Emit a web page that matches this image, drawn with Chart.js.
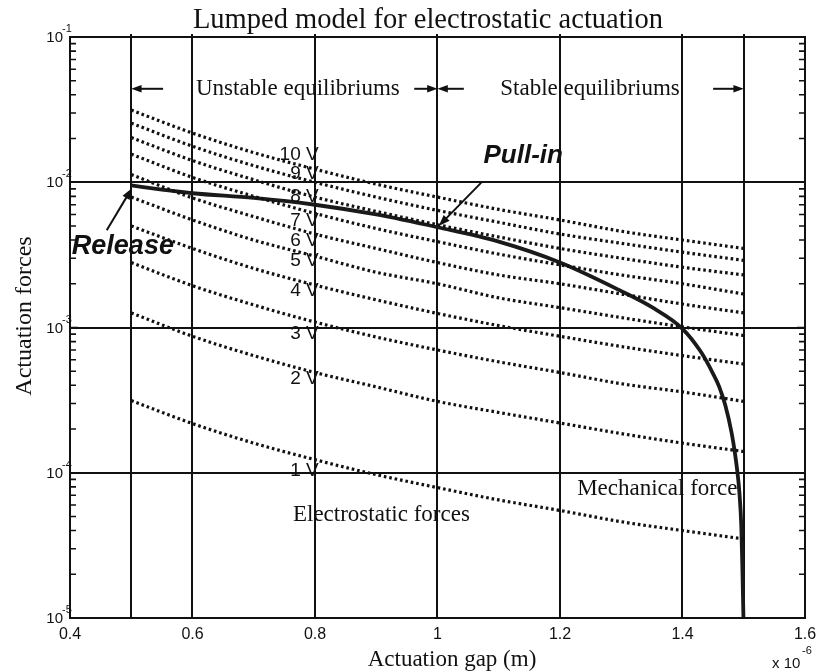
<!DOCTYPE html>
<html>
<head>
<meta charset="utf-8">
<script src="https://cdn.jsdelivr.net/npm/chart.js@4.4.0/dist/chart.umd.min.js"></script>
<style>
	body { margin: 0; background: #fff; }
	#wrap { position: relative; width: 825px; height: 671px; }
</style>
</head>
<body>
<div id="wrap"><canvas id="forceChart"></canvas></div>
<script>
// gap values (x 10^-6 m) where the dotted curves were read
const gapX = [0.5, 0.6, 0.7, 0.8, 0.9, 1.0, 1.1, 1.2, 1.3, 1.4, 1.5];

// electrostatic force for each voltage
const force10V = [0.0314, 0.0218, 0.0160, 0.0123, 0.0097, 0.0079, 0.0065, 0.0055, 0.0046, 0.0040, 0.0035];
const force9V = [0.0255, 0.0177, 0.0130, 0.0100, 0.0079, 0.0064, 0.0053, 0.0044, 0.0038, 0.0033, 0.0029];
const force8V = [0.0203, 0.0141, 0.0104, 0.0079, 0.0063, 0.0051, 0.0042, 0.0035, 0.0030, 0.0026, 0.0023];
const force7V = [0.0156, 0.0108, 0.0080, 0.0061, 0.0048, 0.0039, 0.0032, 0.0027, 0.0023, 0.0020, 0.0017];
const force6V = [0.0113, 0.0078, 0.0058, 0.0044, 0.0035, 0.0028, 0.0023, 0.0020, 0.0017, 0.00145, 0.00126];
const force5V = [0.0079, 0.0055, 0.0040, 0.0031, 0.0024, 0.0020, 0.0016, 0.00137, 0.00117, 0.00101, 0.00088];
const force4V = [0.0050, 0.0035, 0.00255, 0.00196, 0.00155, 0.00125, 0.00103, 0.00087, 0.00074, 0.00064, 0.00056];
const force3V = [0.0028, 0.00194, 0.00143, 0.00109, 0.00086, 0.00070, 0.00058, 0.00049, 0.00041, 0.00036, 0.00031];
const force2V = [0.00126, 0.00087, 0.00064, 0.00049, 0.00039, 0.00031, 0.00026, 0.00022, 0.000186, 0.00016, 0.00014];
const force1V = [0.000314, 0.000218, 0.00016, 0.000123, 0.000097, 0.000079, 0.000065, 0.000055, 0.000046, 0.00004, 0.000035];

const voltageLabels = ['10 V', '9 V', '8 V', '7 V', '6 V', '5 V', '4 V', '3 V', '2 V', '1 V'];
const voltageSeries = [force10V, force9V, force8V, force7V, force6V, force5V, force4V, force3V, force2V, force1V];

// mechanical (spring) force
const mechGap = [0.5, 0.55, 0.6, 0.7, 0.8, 0.9, 1.0, 1.1, 1.2, 1.3, 1.35, 1.4, 1.43, 1.45, 1.46, 1.47, 1.48, 1.485, 1.49, 1.493, 1.496, 1.498, 1.4995];
const mechForce = [0.0095, 0.0089, 0.0084, 0.0078, 0.0070, 0.0060, 0.0049, 0.0039, 0.0028, 0.00178, 0.00138, 0.00098, 0.00068, 0.00048, 0.00039, 0.00029, 0.00019, 0.000142, 0.000098, 0.000072, 0.000043, 0.00002, 0.00001];

// axis ticks
const xTickValues = [0.4, 0.6, 0.8, 1.0, 1.2, 1.4, 1.6];
const xTickLabels = ['0.4', '0.6', '0.8', '1', '1.2', '1.4', '1.6'];
const yTickExponents = [-1, -2, -3, -4, -5];

// lines drawn across the plot
const verticalLines = [0.5, 0.6, 0.8, 1.0, 1.2, 1.4, 1.5];
const horizontalLines = [1e-2, 1e-3, 1e-4];

const SERIF = '"Liberation Serif", "Times New Roman", serif';
const SANS = '"Liberation Sans", Arial, sans-serif';

// 전압별 점선 데이터셋
const datasets = voltageSeries.map((series, i) => ({
	label: voltageLabels[i],
	data: series.map((v, j) => ({ x: gapX[j], y: v })),
	borderColor: '#111',
	borderWidth: 3.2,
	borderDash: [2.6, 2.9],
	cubicInterpolationMode: 'monotone',
	pointRadius: 0,
	fill: false
}));

// 기계적 힘 곡선
datasets.push({
	label: 'Mechanical force',
	data: mechForce.map((v, j) => ({ x: mechGap[j], y: v })),
	borderColor: '#1a1a1a',
	borderWidth: 3.8,
	cubicInterpolationMode: 'monotone',
	pointRadius: 0,
	fill: false
});

function drawArrow(ctx, x1, y1, x2, y2, head) {
	const ang = Math.atan2(y2 - y1, x2 - x1);
	ctx.beginPath();
	ctx.moveTo(x1, y1);
	ctx.lineTo(x2 - Math.cos(ang) * head * 0.6, y2 - Math.sin(ang) * head * 0.6);
	ctx.stroke();
	ctx.beginPath();
	ctx.moveTo(x2, y2);
	ctx.lineTo(x2 - head * Math.cos(ang - 0.35), y2 - head * Math.sin(ang - 0.35));
	ctx.lineTo(x2 - head * Math.cos(ang + 0.35), y2 - head * Math.sin(ang + 0.35));
	ctx.closePath();
	ctx.fill();
}

const decorPlugin = {
	id: 'decor',
	beforeDatasetsDraw(chart) {
		const { ctx, chartArea: a, scales: { x, y } } = chart;
		ctx.save();
		ctx.strokeStyle = '#111';
		ctx.lineWidth = 2;
		verticalLines.forEach(v => {
			const px = Math.round(x.getPixelForValue(v));
			ctx.beginPath();
			ctx.moveTo(px, a.top - 3);
			ctx.lineTo(px, a.bottom);
			ctx.stroke();
		});
		horizontalLines.forEach(v => {
			const py = Math.round(y.getPixelForValue(v));
			ctx.beginPath();
			ctx.moveTo(a.left, py);
			ctx.lineTo(a.right, py);
			ctx.stroke();
		});
		ctx.restore();
	},
	afterDraw(chart) {
		const { ctx, chartArea: a, scales: { x, y } } = chart;
		ctx.save();
		ctx.strokeStyle = '#111';
		ctx.fillStyle = '#111';

		// frame
		ctx.lineWidth = 2;
		ctx.strokeRect(a.left, a.top, a.right - a.left, a.bottom - a.top);

		// minor ticks on the log axis (both sides)
		ctx.lineWidth = 1.6;
		for (let e = -5; e < -1 + 1e-9; e++) {
			for (let m = 1; m <= 9; m++) {
				const v = m * Math.pow(10, e);
				if (v > 0.1 + 1e-12) break;
				const py = y.getPixelForValue(v);
				const len = m === 1 ? 8 : 6;
				ctx.beginPath();
				ctx.moveTo(a.left, py);
				ctx.lineTo(a.left + len, py);
				ctx.moveTo(a.right, py);
				ctx.lineTo(a.right - len, py);
				ctx.stroke();
			}
		}

		// y tick labels 10^n
		yTickExponents.forEach(e => {
			const py = y.getPixelForValue(Math.pow(10, e));
			ctx.font = '15px ' + SANS;
			ctx.textAlign = 'right';
			ctx.textBaseline = 'middle';
			ctx.fillText('10', a.left - 7, py + 1);
			ctx.font = '11px ' + SANS;
			ctx.textAlign = 'left';
			ctx.fillText(String(e), a.left - 8, py - 8);
		});

		// x tick labels
		ctx.font = '16px ' + SANS;
		ctx.textAlign = 'center';
		ctx.textBaseline = 'top';
		xTickValues.forEach((v, i) => {
			ctx.fillText(xTickLabels[i], x.getPixelForValue(v), a.bottom + 9);
		});
		ctx.font = '15px ' + SANS;
		ctx.textAlign = 'left';
		ctx.textBaseline = 'alphabetic';
		ctx.fillText('x 10', 772, 668);
		ctx.font = '11px ' + SANS;
		ctx.fillText('-6', 802, 654);

		// title and axis titles
		ctx.font = '28.5px ' + SERIF;
		ctx.textAlign = 'center';
		ctx.textBaseline = 'middle';
		ctx.fillText('Lumped model for electrostatic actuation', 428, 21);
		ctx.font = '23px ' + SERIF;
		ctx.fillText('Actuation gap (m)', 452, 660);
		ctx.save();
		ctx.translate(25, 316);
		ctx.rotate(-Math.PI / 2);
		ctx.font = '24px ' + SERIF;
		ctx.fillText('Actuation forces', 0, 0);
		ctx.restore();

		// region labels and arrows
		const yArrow = y.getPixelForValue(0.044);
		ctx.font = '23px ' + SERIF;
		ctx.fillText('Unstable equilibriums', x.getPixelForValue(0.772), yArrow);
		ctx.fillText('Stable equilibriums', x.getPixelForValue(1.249), yArrow);
		ctx.lineWidth = 2;
		drawArrow(ctx, x.getPixelForValue(0.552), yArrow, x.getPixelForValue(0.5), yArrow, 11);
		drawArrow(ctx, x.getPixelForValue(0.962), yArrow, x.getPixelForValue(1.0), yArrow, 11);
		drawArrow(ctx, x.getPixelForValue(1.043), yArrow, x.getPixelForValue(1.0), yArrow, 11);
		drawArrow(ctx, x.getPixelForValue(1.45), yArrow, x.getPixelForValue(1.5), yArrow, 11);

		// voltage labels
		const labelValues = [0.01534, 0.01153, 0.00789, 0.00547, 0.00398, 0.0029, 0.0018, 0.00091, 0.000445, 0.000103];
		ctx.font = '19px ' + SANS;
		ctx.textAlign = 'right';
		ctx.textBaseline = 'middle';
		voltageLabels.forEach((t, i) => {
			ctx.fillText(t, x.getPixelForValue(0.806), y.getPixelForValue(labelValues[i]));
		});

		// Pull-in / Release
		ctx.font = 'italic bold 26px ' + SANS;
		ctx.textAlign = 'center';
		ctx.fillText('Pull-in', x.getPixelForValue(1.14), y.getPixelForValue(0.0151));
		ctx.lineWidth = 2;
		drawArrow(ctx, x.getPixelForValue(1.073), y.getPixelForValue(0.0101),
			x.getPixelForValue(1.002), y.getPixelForValue(0.0050), 12);
		ctx.font = 'italic bold 27px ' + SANS;
		ctx.textAlign = 'left';
		ctx.fillText('Release', x.getPixelForValue(0.403), y.getPixelForValue(0.00362));
		drawArrow(ctx, x.getPixelForValue(0.46), y.getPixelForValue(0.00467),
			x.getPixelForValue(0.501), y.getPixelForValue(0.0091), 12);

		// curve family labels
		ctx.font = '23px ' + SERIF;
		ctx.fillText('Electrostatic forces', x.getPixelForValue(0.764), y.getPixelForValue(5.13e-5));
		ctx.fillText('Mechanical force', x.getPixelForValue(1.228), y.getPixelForValue(7.76e-5));

		ctx.restore();
	}
};

new Chart(document.getElementById('forceChart'), {
	type: 'line',
	data: { datasets: datasets },
	options: {
		responsive: true,
		maintainAspectRatio: false,
		animation: false,
		layout: { padding: { left: 70, right: 20, top: 37, bottom: 53 } },
		plugins: {
			legend: { display: false },
			tooltip: { enabled: false }
		},
		scales: {
			x: { type: 'linear', min: 0.4, max: 1.6, display: false },
			y: { type: 'logarithmic', min: 1e-5, max: 1e-1, display: false }
		}
	},
	plugins: [decorPlugin]
});
</script>
</body>
</html>
